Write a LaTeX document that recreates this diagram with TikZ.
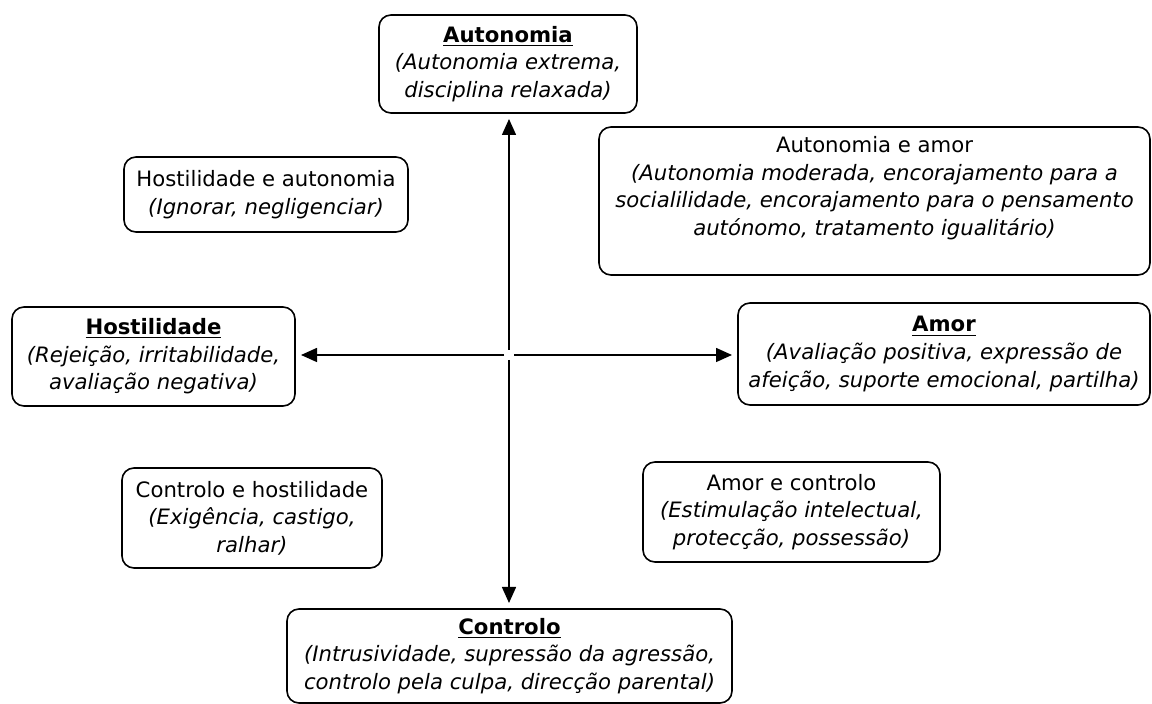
\documentclass[tikz,border=0pt]{standalone}
\usepackage{fontspec}
\setmainfont{DejaVu Sans}
\usetikzlibrary{arrows.meta}
\begin{document}
\begin{tikzpicture}[x=0.5pt,y=-0.5pt,
  box/.style={draw=black, line width=0.8pt, rounded corners=6pt, inner sep=0pt,
    align=center, font=\fontsize{10.6pt}{13.8pt}\selectfont},
  txt/.style={inner sep=0pt, align=center, font=\fontsize{10.6pt}{13.8pt}\selectfont},
  axis/.style={line width=0.75pt, -{Triangle[length=8pt,width=7pt]}, shorten <=2.5pt, shorten >=2.6pt}]
\useasboundingbox (0,0) rectangle (1152,704);
\node[box, minimum width=129pt, minimum height=49pt] (aut) at (508,64)
  {\textbf{\underline{Autonomia}}\\\textit{(Autonomia extrema,}\\\textit{disciplina relaxada)}};
\node[box, minimum width=142pt, minimum height=37.5pt] (ha) at (266,194.5)
  {Hostilidade e autonomia\\\textit{(Ignorar, negligenciar)}};
\node[box, minimum width=275.5pt, minimum height=74pt] (aa) at (874.5,201) {};
\node[txt] (aat) at (874.5,188)
  {Autonomia e amor\\\textit{(Autonomia moderada, encorajamento para a}\\\textit{socialilidade, encorajamento para o pensamento}\\\textit{autónomo, tratamento igualitário)}};
\node[box, minimum width=141.5pt, minimum height=49.5pt] (hos) at (153.5,356.5)
  {\textbf{\underline{Hostilidade}}\\\textit{(Rejeição, irritabilidade,}\\\textit{avaliação negativa)}};
\node[box, minimum width=206pt, minimum height=51pt] (amor) at (944,354)
  {\textbf{\underline{Amor}}\\\textit{(Avaliação positiva, expressão de}\\\textit{afeição, suporte emocional, partilha)}};
\node[box, minimum width=130pt, minimum height=50pt] (ch) at (252,518)
  {Controlo e hostilidade\\\textit{(Exigência, castigo,}\\\textit{ralhar)}};
\node[box, minimum width=148.5pt, minimum height=50pt] (ac) at (791.5,512)
  {Amor e controlo\\\textit{(Estimulação intelectual,}\\\textit{protecção, possessão)}};
\node[box, minimum width=222.5pt, minimum height=47pt] (con) at (509.5,656)
  {\textbf{\underline{Controlo}}\\\textit{(Intrusividade, supressão da agressão,}\\\textit{controlo pela culpa, direcção parental)}};
\coordinate (c) at (509,355);
\draw[axis] (c) -- (c |- aut.south);
\draw[axis] (c) -- (c |- con.north);
\draw[axis] (c) -- (c -| hos.east);
\draw[axis] (c) -- (c -| amor.west);
\end{tikzpicture}
\end{document}
